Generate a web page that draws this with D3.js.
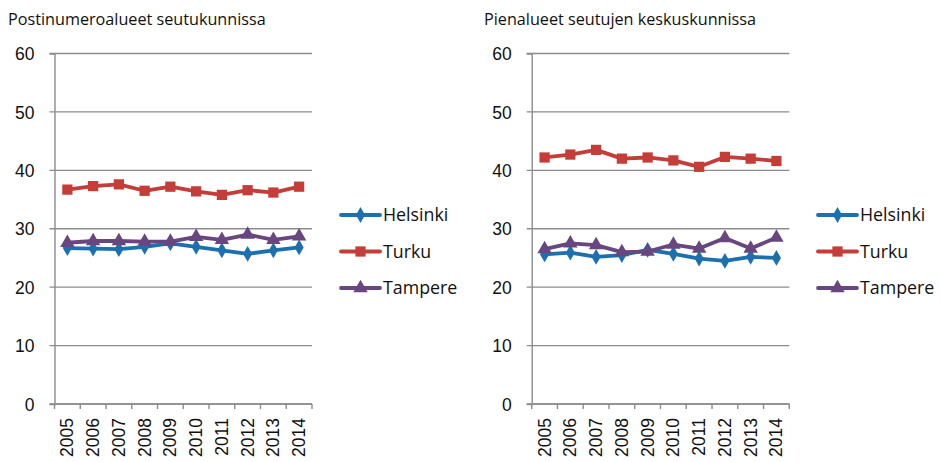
<!DOCTYPE html>
<html>
<head>
<meta charset="utf-8">
<script src="https://cdn.jsdelivr.net/npm/d3@7"></script>
<style>
  body { margin: 0; background: #fff; }
  svg { display: block; }
  .title, .legend text { font-family: "Open Sans", sans-serif; fill: #111; }
  .tick text { font-family: "Liberation Sans", Arial, sans-serif; fill: #111; }
</style>
</head>
<body>
<svg width="940" height="462"></svg>
<script>
const years = ["2005", "2006", "2007", "2008", "2009", "2010", "2011", "2012", "2013", "2014"];
const seriesNames = ["Helsinki", "Turku", "Tampere"];
const yTicks = [0, 10, 20, 30, 40, 50, 60];

// Postinumeroalueet seutukunnissa
const leftHelsinki = [26.7, 26.6, 26.5, 26.9, 27.5, 26.9, 26.3, 25.7, 26.3, 26.8];
const leftTurku    = [36.7, 37.3, 37.6, 36.5, 37.2, 36.4, 35.8, 36.6, 36.2, 37.2];
const leftTampere  = [27.6, 27.9, 27.9, 27.8, 27.8, 28.6, 28.1, 29.0, 28.1, 28.7];

// Pienalueet seutujen keskuskunnissa
const rightHelsinki = [25.6, 25.9, 25.2, 25.5, 26.4, 25.7, 24.9, 24.5, 25.2, 25.0];
const rightTurku    = [42.2, 42.7, 43.5, 42.0, 42.2, 41.7, 40.6, 42.3, 42.0, 41.6];
const rightTampere  = [26.5, 27.5, 27.2, 26.0, 26.1, 27.3, 26.6, 28.4, 26.6, 28.5];

const colors = ["#1c70ad", "#c53d38", "#68467f"];
const symbols = [d3.symbolDiamond, d3.symbolSquare, d3.symbolTriangle];
const symbolSizes = [72, 105, 90];

const svg = d3.select("svg");

function drawPanel(cfg) {
  const g = svg.append("g");

  g.append("text")
    .attr("class", "title")
    .attr("x", cfg.titleX)
    .attr("y", 25)
    .attr("font-size", 16.2)
    .text(cfg.title);

  const x = d3.scaleBand().domain(years).range([cfg.x0, cfg.x1]);
  const y = d3.scaleLinear().domain([0, 60]).range([404, 53.5]);

  // gridlines
  g.append("g")
    .selectAll("line")
    .data(yTicks)
    .enter().append("line")
    .attr("x1", cfg.x0 - 5)
    .attr("x2", cfg.x1)
    .attr("y1", d => y(d))
    .attr("y2", d => y(d))
    .attr("stroke", "#8c8c8c")
    .attr("stroke-width", 1.4);

  // y axis labels
  const yAxis = g.append("g")
    .attr("transform", "translate(" + cfg.x0 + ",0)")
    .call(d3.axisLeft(y).tickValues(yTicks).tickSize(5).tickPadding(15));
  yAxis.select(".domain").attr("stroke", "#8c8c8c").attr("stroke-width", 1.4);
  yAxis.selectAll(".tick line").remove();
  yAxis.selectAll(".tick text").attr("font-size", 17.5).attr("dy", "0.35em");

  // x axis with ticks between categories
  g.append("line")
    .attr("x1", cfg.x0).attr("x2", cfg.x1)
    .attr("y1", y(0)).attr("y2", y(0))
    .attr("stroke", "#8c8c8c").attr("stroke-width", 1.4);
  g.append("g")
    .selectAll("line")
    .data(years.map(d => x(d)).concat([cfg.x1]))
    .enter().append("line")
    .attr("x1", d => d).attr("x2", d => d)
    .attr("y1", y(0)).attr("y2", y(0) + 5)
    .attr("stroke", "#8c8c8c").attr("stroke-width", 1.4);

  g.append("g")
    .attr("class", "tick")
    .selectAll("text")
    .data(years)
    .enter().append("text")
    .attr("transform", d => "translate(" + (x(d) + x.bandwidth() / 2 + 6) + "," + 418 + ") rotate(-90)")
    .attr("text-anchor", "end")
    .attr("font-size", 17.5)
    .text(d => d);

  const line = d3.line()
    .x((d, i) => x(years[i]) + x.bandwidth() / 2)
    .y(d => y(d));

  cfg.series.forEach((values, s) => {
    g.append("path")
      .datum(values)
      .attr("fill", "none")
      .attr("stroke", colors[s])
      .attr("stroke-width", 3.8)
      .attr("stroke-linejoin", "round")
      .attr("d", line);

    g.append("g")
      .selectAll("path")
      .data(values)
      .enter().append("path")
      .attr("transform", (d, i) => "translate(" + (x(years[i]) + x.bandwidth() / 2) + "," + y(d) + ")")
      .attr("d", d3.symbol().type(symbols[s]).size(symbolSizes[s]))
      .attr("fill", colors[s]);
  });

  // legend
  const legend = g.append("g").attr("class", "legend");
  seriesNames.forEach((name, s) => {
    const ly = 215 + s * 36.5;
    legend.append("line")
      .attr("x1", cfg.legendX).attr("x2", cfg.legendX + 39)
      .attr("y1", ly).attr("y2", ly)
      .attr("stroke", colors[s]).attr("stroke-width", 3.8)
      .attr("stroke-linecap", "round");
    legend.append("path")
      .attr("transform", "translate(" + (cfg.legendX + 19.5) + "," + ly + ")")
      .attr("d", d3.symbol().type(symbols[s]).size(symbolSizes[s]))
      .attr("fill", colors[s]);
    legend.append("text")
      .attr("x", cfg.legendX + 42)
      .attr("y", ly)
      .attr("dy", "0.36em")
      .attr("font-size", 17.8)
      .text(name);
  });
}

drawPanel({
  title: "Postinumeroalueet seutukunnissa",
  titleX: 8,
  x0: 54.5, x1: 312,
  legendX: 341,
  series: [leftHelsinki, leftTurku, leftTampere]
});

drawPanel({
  title: "Pienalueet seutujen keskuskunnissa",
  titleX: 484,
  x0: 531.7, x1: 789.3,
  legendX: 818,
  series: [rightHelsinki, rightTurku, rightTampere]
});
</script>
</body>
</html>
